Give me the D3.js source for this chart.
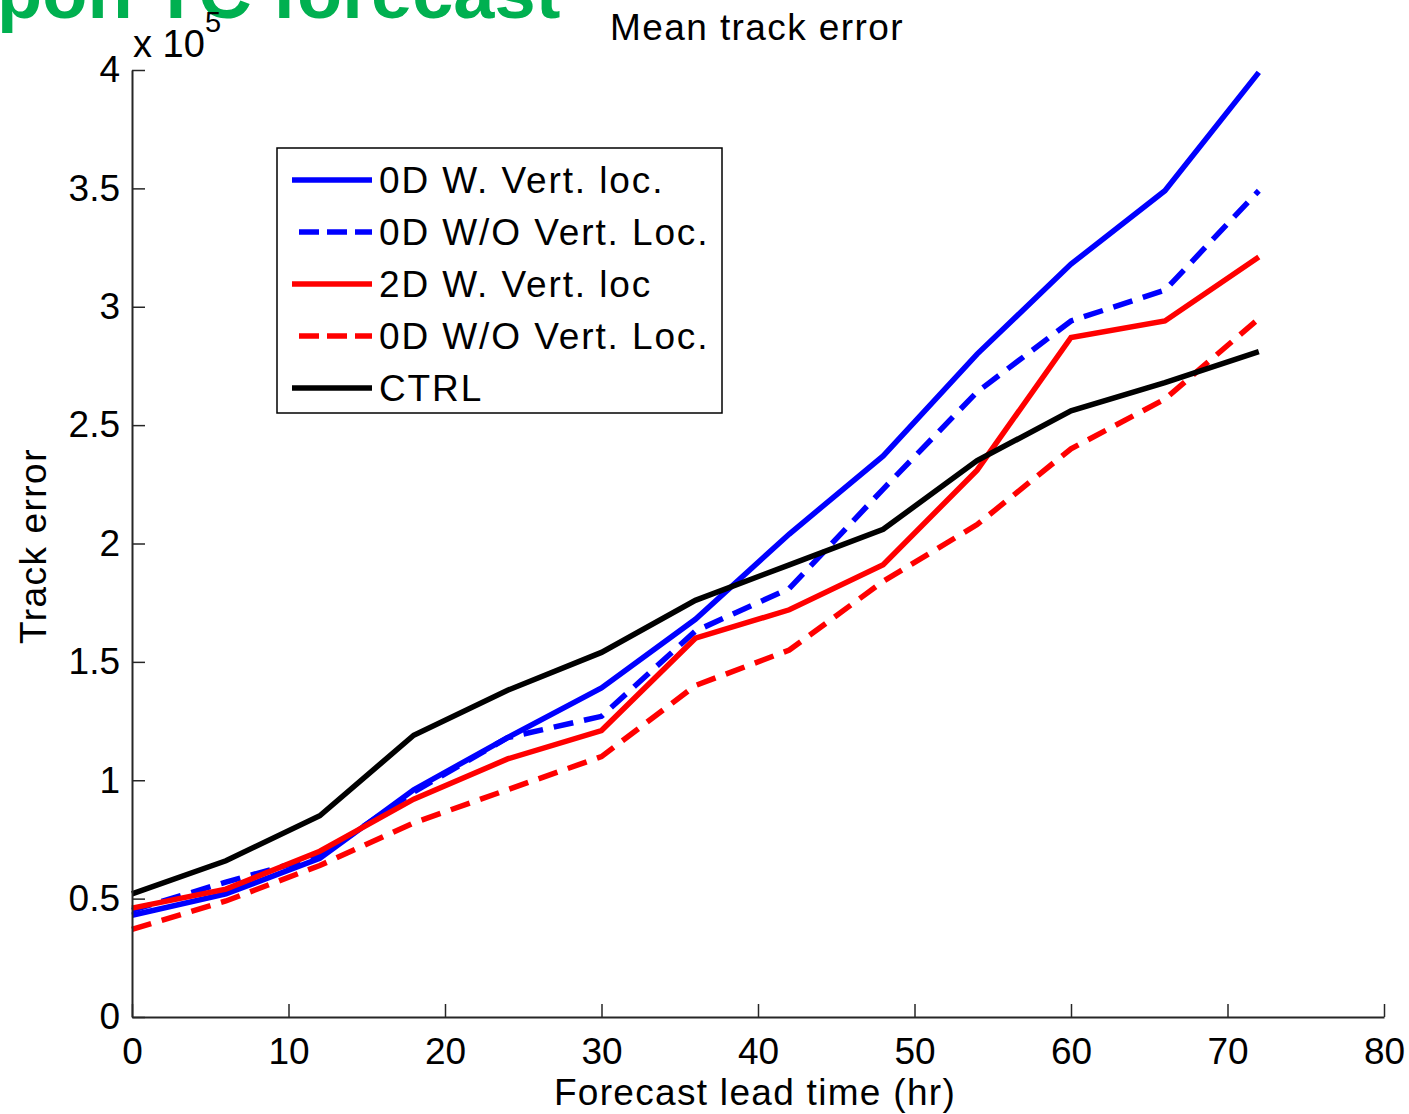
<!DOCTYPE html>
<html>
<head>
<meta charset="utf-8">
<script src="https://cdn.jsdelivr.net/npm/d3@7"></script>
<style>
  body { margin: 0; background: #fff; }
  text { font-family: "Liberation Sans", Arial, sans-serif; }
</style>
</head>
<body>
<svg></svg>
<script>
// data (track error in units of 1e5)
var leadTimes = [0, 6, 12, 18, 24, 30, 36, 42, 48, 54, 60, 66, 72];
var blueSolid  = [0.43, 0.52, 0.67, 0.96, 1.18, 1.39, 1.68, 2.04, 2.37, 2.80, 3.18, 3.49, 3.99];
var blueDashed = [0.45, 0.57, 0.68, 0.95, 1.18, 1.27, 1.63, 1.81, 2.23, 2.64, 2.94, 3.07, 3.49];
var redSolid   = [0.46, 0.54, 0.70, 0.92, 1.09, 1.21, 1.60, 1.72, 1.91, 2.31, 2.87, 2.94, 3.21];
var redDashed  = [0.37, 0.49, 0.64, 0.82, 0.96, 1.10, 1.40, 1.55, 1.84, 2.08, 2.40, 2.61, 2.95];
var ctrl       = [0.52, 0.66, 0.85, 1.19, 1.38, 1.54, 1.76, 1.91, 2.06, 2.35, 2.56, 2.68, 2.81];
var seriesNames = ["0D W. Vert. loc.", "0D W/O Vert. Loc.", "2D W. Vert. loc", "0D W/O Vert. Loc.", "CTRL"];
var xTicks = [0, 10, 20, 30, 40, 50, 60, 70, 80];
var yTicks = [0, 0.5, 1, 1.5, 2, 2.5, 3, 3.5, 4];

var svgWidth = 1409, svgHeight = 1114;
var svg = d3.select('svg')
  .attr('width', svgWidth)
  .attr('height', svgHeight);

// plot area
var plotLeft = 132, plotRight = 1384, plotTop = 70, plotBottom = 1017;

var x = d3.scaleLinear().domain([0, 80]).range([plotLeft, plotRight]);
var y = d3.scaleLinear().domain([0, 4]).range([plotBottom, plotTop]);

// green slide title, cut off at the top
svg.append("text")
  .attr("x", -3)
  .attr("y", 18)
  .attr("font-size", "74px")
  .attr("font-weight", "bold")
  .attr("fill", "#00b050")
  .text("pon TC forecast");

// lines
var series = [
  {values: blueSolid,  color: "#0000ff", dash: null},
  {values: blueDashed, color: "#0000ff", dash: "20,11"},
  {values: redSolid,   color: "#ff0000", dash: null},
  {values: redDashed,  color: "#ff0000", dash: "20,11"},
  {values: ctrl,       color: "#000000", dash: null}
];

var line = d3.line()
  .x(function (d, i) { return x(leadTimes[i]); })
  .y(function (d) { return y(d); });

svg.selectAll("path.series")
  .data(series)
  .enter()
  .append("path")
  .attr("class", "series")
  .attr("d", function (d) { return line(d.values); })
  .attr("fill", "none")
  .attr("stroke", function (d) { return d.color; })
  .attr("stroke-width", 5.5)
  .attr("stroke-dasharray", function (d) { return d.dash; });

// axes, ticks pointing inward
var xAxis = svg.append("g")
  .attr("transform", "translate(0," + plotBottom + ")")
  .call(d3.axisBottom(x).tickValues(xTicks).tickSizeInner(-13).tickSizeOuter(0).tickPadding(14));
var yAxis = svg.append("g")
  .attr("transform", "translate(" + plotLeft + ",0)")
  .call(d3.axisLeft(y).tickValues(yTicks).tickSizeInner(-13).tickSizeOuter(0).tickPadding(12)
    .tickFormat(function (d) { return d3.format("")(d); }));

[xAxis, yAxis].forEach(function (g) {
  g.select(".domain").attr("stroke", "#262626").attr("stroke-width", 2);
  g.selectAll(".tick line").attr("stroke", "#262626").attr("stroke-width", 1.5);
  g.selectAll(".tick text")
    .attr("font-size", "37px")
    .attr("font-family", "'Liberation Sans', Arial, sans-serif")
    .attr("fill", "#000");
});
xAxis.selectAll(".tick text").attr("dy", "0.9em");

// exponent label
var expo = svg.append("text")
  .attr("x", 133)
  .attr("y", 57)
  .attr("font-size", "38px")
  .attr("fill", "#000");
expo.append("tspan").text("x 10");
expo.append("tspan").attr("x", 205).attr("y", 32).attr("font-size", "29px").text("5");

// title and axis labels
svg.append("text")
  .attr("x", 757)
  .attr("y", 40)
  .attr("text-anchor", "middle")
  .attr("font-size", "37px")
  .attr("letter-spacing", "1.4px")
  .text("Mean track error");

svg.append("text")
  .attr("x", 755)
  .attr("y", 1105)
  .attr("text-anchor", "middle")
  .attr("font-size", "37px")
  .attr("letter-spacing", "1.3px")
  .text("Forecast lead time (hr)");

svg.append("text")
  .attr("transform", "translate(46,546) rotate(-90)")
  .attr("text-anchor", "middle")
  .attr("font-size", "37px")
  .attr("letter-spacing", "1.5px")
  .text("Track error");

// legend
var legend = svg.append("g");
legend.append("rect")
  .attr("x", 277)
  .attr("y", 148)
  .attr("width", 445)
  .attr("height", 265)
  .attr("fill", "#fff")
  .attr("stroke", "#000")
  .attr("stroke-width", 1.5);

var rows = legend.selectAll("g.row")
  .data(series)
  .enter()
  .append("g")
  .attr("class", "row")
  .attr("transform", function (d, i) { return "translate(0," + (180 + i * 52) + ")"; });

rows.append("line")
  .attr("x1", function (d) { return d.dash ? 299 : 292; })
  .attr("x2", 372)
  .attr("y1", 0)
  .attr("y2", 0)
  .attr("stroke", function (d) { return d.color; })
  .attr("stroke-width", 5.5)
  .attr("stroke-dasharray", function (d) { return d.dash ? "20,8" : null; });

rows.append("text")
  .attr("x", 379)
  .attr("y", 0)
  .attr("dy", "0.36em")
  .attr("font-size", "37px")
  .attr("letter-spacing", "1.9px")
  .text(function (d, i) { return seriesNames[i]; });
</script>
</body>
</html>
